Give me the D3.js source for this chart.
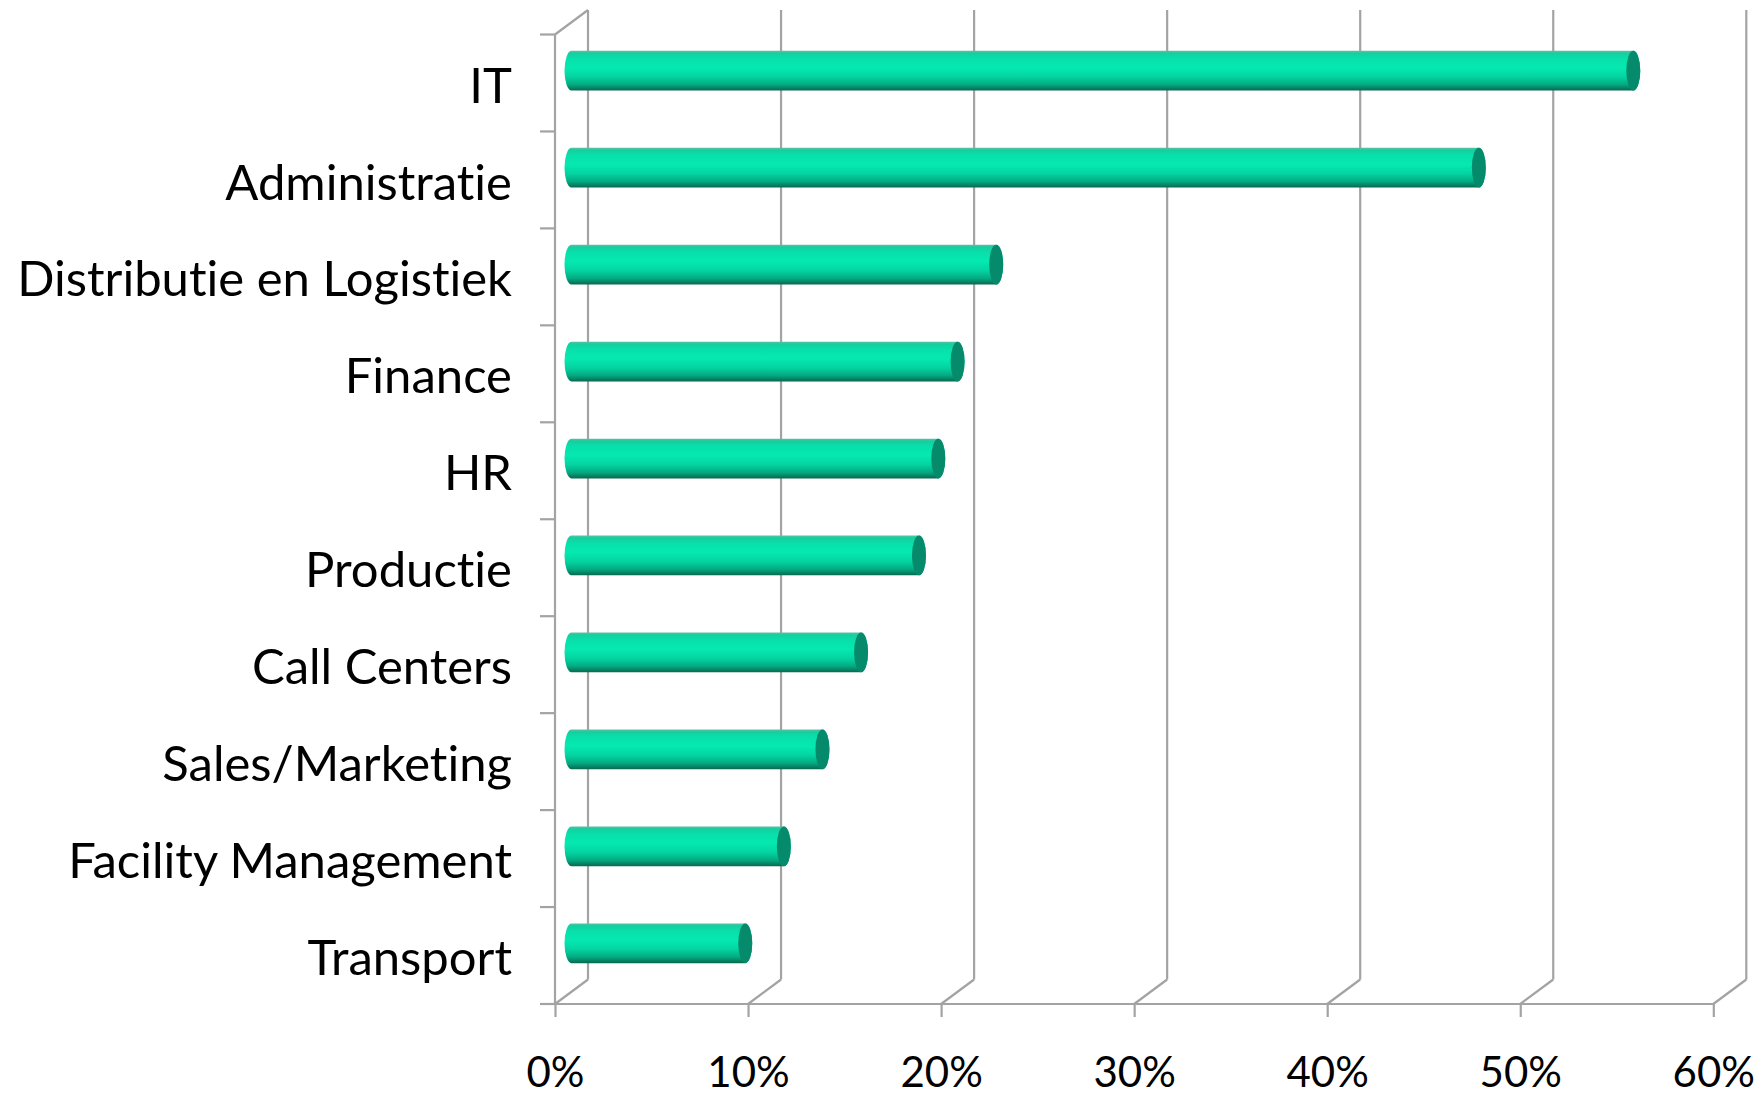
<!DOCTYPE html>
<html>
<head>
<meta charset="utf-8">
<script src="https://cdn.jsdelivr.net/npm/d3@7"></script>
<style>
  html, body { margin: 0; padding: 0; background: #ffffff; }
  svg { display: block; }
  text { font-family: Lato, "Open Sans", sans-serif; fill: #000;
         font-variant-ligatures: none; font-feature-settings: "liga" 0, "clig" 0; }
</style>
</head>
<body>
<svg id="chart" width="1759" height="1097"></svg>
<script>
// ---- data ----
const categories = ["IT", "Administratie", "Distributie en Logistiek", "Finance", "HR",
  "Productie", "Call Centers", "Sales/Marketing", "Facility Management", "Transport"];
const values = [0.55, 0.47, 0.22, 0.20, 0.19, 0.18, 0.15, 0.13, 0.11, 0.09];
const xTickValues = [0, 0.1, 0.2, 0.3, 0.4, 0.5, 0.6];
const xTickLabels = ["0%", "10%", "20%", "30%", "40%", "50%", "60%"];

// ---- layout ----
const depthX = 33, depthY = -24.5;
const plotLeft = 555, plotRight = 1713.3, plotTop = 34.5, plotBottom = 1004;
const gridColor = "#a3a3a3";

const svg = d3.select("#chart");

const x = d3.scaleLinear().domain([0, 0.6]).range([plotLeft, plotRight]);
const y = d3.scaleBand().domain(categories).range([plotTop, plotBottom]).padding(0);

// ---- gradient ----
const defs = svg.append("defs");
const grad = defs.append("linearGradient").attr("id", "cyl")
  .attr("x1", 0).attr("y1", 0).attr("x2", 0).attr("y2", 1);
[[0, "#5fbfa3"], [0.06, "#14cf9f"], [0.2, "#08e0ab"], [0.42, "#05e9b1"], [0.65, "#04d4a1"],
 [0.85, "#03a981"], [1, "#08684f"]].forEach(([o, c]) =>
  grad.append("stop").attr("offset", o).attr("stop-color", c));

const g = svg.append("g");

// ---- back wall gridlines & floor diagonals ----
xTickValues.forEach(v => {
  const fx = x(v);
  g.append("line").attr("x1", fx + depthX).attr("x2", fx + depthX)
    .attr("y1", plotTop + depthY).attr("y2", plotBottom + depthY)
    .attr("stroke", gridColor).attr("stroke-width", 2.2);
  g.append("line").attr("x1", fx).attr("y1", plotBottom)
    .attr("x2", fx + depthX).attr("y2", plotBottom + depthY)
    .attr("stroke", gridColor).attr("stroke-width", 2.2);
});
// left wall top diagonal
g.append("line").attr("x1", plotLeft).attr("y1", plotTop)
  .attr("x2", plotLeft + depthX).attr("y2", plotTop + depthY)
  .attr("stroke", gridColor).attr("stroke-width", 2.2);

// ---- front axes ----
const xAxis = d3.axisBottom(x).tickValues(xTickValues)
  .tickFormat((d, i) => xTickLabels[i]).tickSize(13).tickPadding(40);
const xg = svg.append("g").attr("transform", `translate(0,${plotBottom})`).call(xAxis);
xg.select(".domain").attr("stroke", gridColor).attr("stroke-width", 2.2)
  .attr("d", `M${plotLeft},0H${plotRight}`);
xg.selectAll(".tick line").attr("stroke", gridColor).attr("stroke-width", 2.2);
xg.selectAll(".tick text").attr("font-size", 42).attr("font-family", "Lato, sans-serif")
  .attr("fill", "#000").attr("dy", "0.71em");

const yAxis = d3.axisLeft(y).tickSize(0).tickPadding(43);
const yg = svg.append("g").attr("transform", `translate(${plotLeft},0)`).call(yAxis);
yg.select(".domain").attr("stroke", gridColor).attr("stroke-width", 2.2)
  .attr("d", `M0,${plotTop}V${plotBottom}`);
yg.selectAll(".tick text").attr("font-size", 49).attr("font-family", "Lato, sans-serif")
  .attr("fill", "#000").attr("dy", "0.4em");
// category boundary ticks
const bounds = categories.map(c => y(c)).concat([plotBottom]);
yg.selectAll(".bound").data(bounds).enter().append("line")
  .attr("x1", -15).attr("x2", 0).attr("y1", d => d).attr("y2", d => d)
  .attr("stroke", gridColor).attr("stroke-width", 2.2);

// ---- cylinders ----
const barH = y.bandwidth() * 0.41;
const r = barH / 2;
const rx = 7;
const bars = svg.append("g");
categories.forEach((c, i) => {
  const yc = y(c) + y.bandwidth() / 2 + depthY / 2;
  const x0 = x(0) + depthX / 2;
  const x1 = x(values[i]) + depthX / 2;
  const path = `M${x0},${yc - r} L${x1},${yc - r} A${rx},${r} 0 0 1 ${x1},${yc + r} ` +
    `L${x0},${yc + r} A${rx},${r} 0 0 1 ${x0},${yc - r} Z`;
  bars.append("path").attr("d", path).attr("fill", "url(#cyl)");
  bars.append("ellipse").attr("cx", x1).attr("cy", yc).attr("rx", rx).attr("ry", r)
    .attr("fill", "#058a6b");
});
</script>
</body>
</html>
